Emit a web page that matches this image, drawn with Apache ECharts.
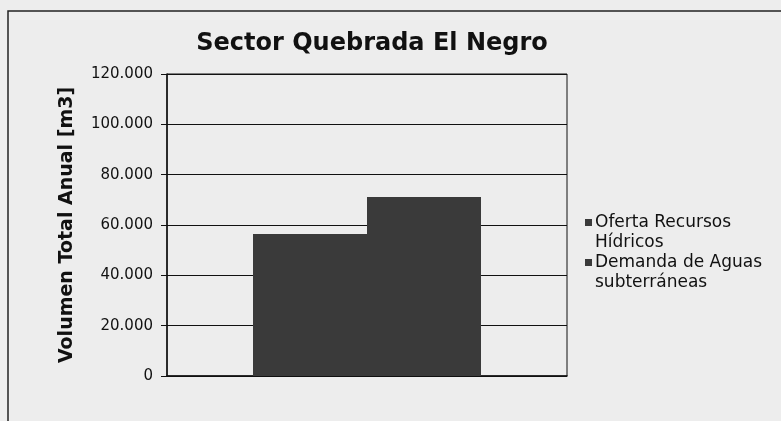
<!DOCTYPE html>
<html>
<head>
<meta charset="utf-8">
<script src="https://cdn.jsdelivr.net/npm/echarts@6/dist/echarts.min.js"></script>
<style>
  html, body { margin: 0; padding: 0; background: #ededed; }
  #main { width: 781px; height: 421px; }
</style>
</head>
<body>
<div id="main"></div>
<script>
var categorias = [''];
var nombresSeries = ['Oferta Recursos\nHídricos', 'Demanda de Aguas\nsubterráneas'];
var oferta = [56400];
var demanda = [71100];
var ticksY = [0, 20000, 40000, 60000, 80000, 100000, 120000];

var myChart = echarts.init(document.getElementById('main'));

function miles(v) {
  return String(v).replace(/\B(?=(\d{3})+(?!\d))/g, '.');
}

// square on the first text line of each legend entry
var iconoLeyenda = 'path://M0,0L7,0L7,7L0,7Z M0,28L0.01,28L0.01,28.01Z';

var option = {
  backgroundColor: '#ededed',
  animation: false,
  title: {
    text: 'Sector Quebrada El Negro',
    left: 367,
    top: 27,
    textAlign: 'center',
    textStyle: { fontFamily: 'DejaVu Sans', fontWeight: 'bold', fontSize: 24, color: '#111' }
  },
  graphic: [{
    type: 'rect',
    shape: { x: 8, y: 11, width: 790, height: 430 },
    style: { fill: 'none', stroke: '#222', lineWidth: 1.5 }
  }],
  legend: {
    orient: 'vertical',
    left: 580,
    top: 208,
    itemWidth: 7,
    itemHeight: 28,
    itemGap: 0,
    icon: iconoLeyenda,
    textStyle: { fontFamily: 'DejaVu Sans', fontSize: 17, color: '#111', lineHeight: 20, padding: [0, 0, 0, -2] }
  },
  grid: {
    left: 167, right: 214, top: 74, bottom: 45,
    show: true, borderColor: '#111', borderWidth: 1
  },
  xAxis: {
    type: 'category',
    data: categorias,
    axisLine: { lineStyle: { color: '#111', width: 1.5 } },
    axisTick: { show: false },
    axisLabel: { show: false }
  },
  yAxis: {
    type: 'value',
    min: ticksY[0],
    max: ticksY[ticksY.length - 1],
    interval: 20000,
    name: 'Volumen Total Anual [m3]',
    nameLocation: 'middle',
    nameGap: 90,
    nameTextStyle: { fontFamily: 'DejaVu Sans', fontWeight: 'bold', fontSize: 19, color: '#111' },
    axisLine: { show: true, lineStyle: { color: '#111', width: 1.5 } },
    axisTick: { show: true, length: 6, lineStyle: { color: '#111' } },
    axisLabel: {
      fontFamily: 'DejaVu Sans', fontSize: 15, color: '#111', margin: 14,
      formatter: function (v) { return miles(v); }
    },
    splitLine: { lineStyle: { color: '#111', width: 1 } }
  },
  series: [
    {
      name: nombresSeries[0],
      type: 'bar',
      data: oferta,
      barGap: '0%',
      barCategoryGap: '43%',
      itemStyle: { color: '#3a3a3a' }
    },
    {
      name: nombresSeries[1],
      type: 'bar',
      data: demanda,
      itemStyle: { color: '#3a3a3a' }
    }
  ]
};

option && myChart.setOption(option);
</script>
</body>
</html>
